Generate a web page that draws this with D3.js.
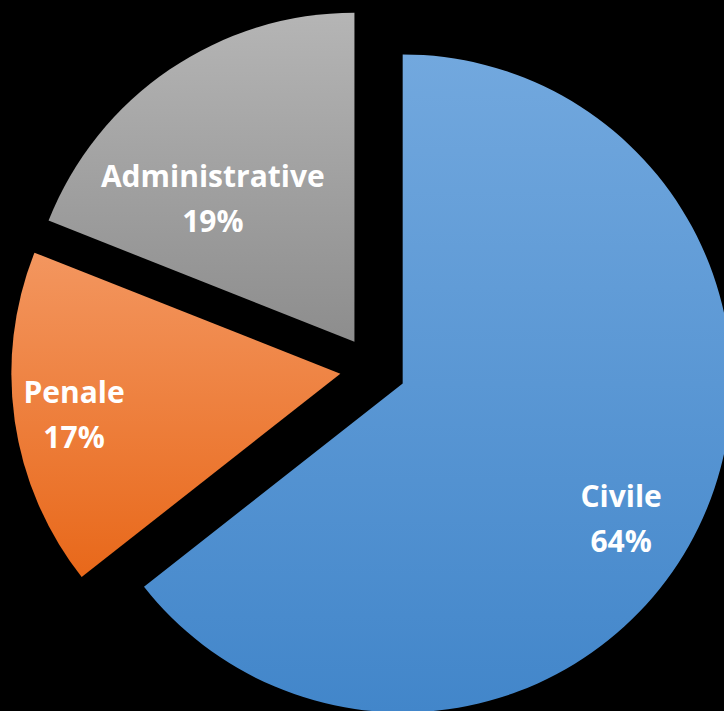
<!DOCTYPE html>
<html>
<head>
<meta charset="utf-8">
<script src="https://cdn.jsdelivr.net/npm/d3@7/dist/d3.min.js"></script>
<style>
  html, body { margin: 0; padding: 0; background: #000; }
  svg { display: block; }
</style>
</head>
<body>
<svg id="chart" width="724" height="711"></svg>
<script>
// ---- data ----
const categories = ["Civile", "Penale", "Administrative"];
const values = [64.4, 16.6, 19.0];
const percentLabels = ["64%", "17%", "19%"];

// ---- styling / layout (not data) ----
const gradTop = ["#72a8de", "#f3965f", "#b5b5b5"];
const gradBottom = ["#4286ca", "#e8681a", "#8d8d8d"];
const W = 724, H = 711;
const cx = 373, cy = 369, R = 329, explode = 33;
// label placement: [angle (deg, clockwise from north), distance from slice apex]
const labelPlace = [[121.8, 257], [261.2, 269.5], [315.2, 201]];

const svg = d3.select("#chart");
svg.append("rect").attr("width", W).attr("height", H).attr("fill", "#000");

const defs = svg.append("defs");
categories.forEach((c, i) => {
  const g = defs.append("linearGradient")
    .attr("id", "grad" + i)
    .attr("x1", 0).attr("y1", 0).attr("x2", 0).attr("y2", 1);
  g.append("stop").attr("offset", "0%").attr("stop-color", gradTop[i]);
  g.append("stop").attr("offset", "100%").attr("stop-color", gradBottom[i]);
});

const pie = d3.pie().sort(null).value(d => d)(values);
const arc = d3.arc().innerRadius(0).outerRadius(R);

const g = svg.append("g").attr("transform", `translate(${cx},${cy})`);

pie.forEach((p, i) => {
  const mid = (p.startAngle + p.endAngle) / 2;
  const dx = Math.sin(mid) * explode, dy = -Math.cos(mid) * explode;
  const sg = g.append("g").attr("transform", `translate(${dx},${dy})`);
  sg.append("path").attr("d", arc(p)).attr("fill", `url(#grad${i})`);

  const [ang, dist] = labelPlace[i];
  const a = ang * Math.PI / 180;
  const lx = Math.sin(a) * dist, ly = -Math.cos(a) * dist;
  const t = sg.append("text")
    .attr("text-anchor", "middle")
    .attr("fill", "#ffffff")
    .attr("font-family", "'Open Sans', sans-serif")
    .attr("font-weight", "bold")
    .attr("font-size", 30)
    .style("font-variant-ligatures", "none");
  t.append("tspan").attr("x", lx).attr("y", ly - 12).text(categories[i]);
  t.append("tspan").attr("x", lx).attr("y", ly + 33).text(percentLabels[i]);
});
</script>
</body>
</html>
